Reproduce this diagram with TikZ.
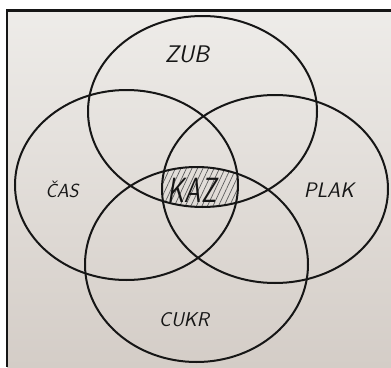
\documentclass[tikz,border=0pt]{standalone}
\usepackage{tikz}
\usetikzlibrary{patterns.meta}
\definecolor{paperhi}{HTML}{EEECE9}
\definecolor{paperlo}{HTML}{D4CDC7}
\definecolor{inkblk}{HTML}{161616}

\begin{document}
\begin{tikzpicture}[
  x=1pt, y=-1pt,
  ring/.style={draw=inkblk, line width=2pt},
  lbl/.style={font=\sffamily\slshape\fontsize{#1}{#1}\selectfont, text=inkblk, inner sep=0pt},
  hatch/.style={pattern={Lines[angle=65,distance=5pt,line width=0.7pt]}, pattern color=inkblk!70},
]
\useasboundingbox (0,0) rectangle (391,367);
\fill[white] (0,0) rectangle (391,367);
\shade[top color=paperhi, bottom color=paperlo] (7,10) rectangle (391,367);
\draw[line width=2.2pt, inkblk] (391,10.5) -- (7,10.5) -- (7,367);
% common part of all four sets
\begin{scope}
  \clip (202.5,111.5) ellipse [x radius=114.5, y radius=95.5];
  \clip (126.5,185) ellipse [x radius=111.5, y radius=95];
  \clip (275,189) ellipse [x radius=113, y radius=94];
  \clip (196.5,264.5) ellipse [x radius=111.5, y radius=97.5];
  \fill[hatch] (140,140) rectangle (260,240);
\end{scope}
% the four sets
\draw[ring] (202.5,111.5) ellipse [x radius=114.5, y radius=95.5];
\draw[ring] (126.5,185) ellipse [x radius=111.5, y radius=95];
\draw[ring] (275,189) ellipse [x radius=113, y radius=94];
\draw[ring] (196.5,264.5) ellipse [x radius=111.5, y radius=97.5];
% labels
\node[lbl=24] (zub) at (187,54) {ZUB};
\node[lbl=19] (cas) at (62,189) {ČAS};
\node[lbl=21] (plak) at (329,190) {PLAK};
\node[lbl=20] (cukr) at (184,320) {CUKR};
\node[lbl=35, xscale=0.75] (kaz) at (192,190) {KAZ};
\end{tikzpicture}
\end{document}
